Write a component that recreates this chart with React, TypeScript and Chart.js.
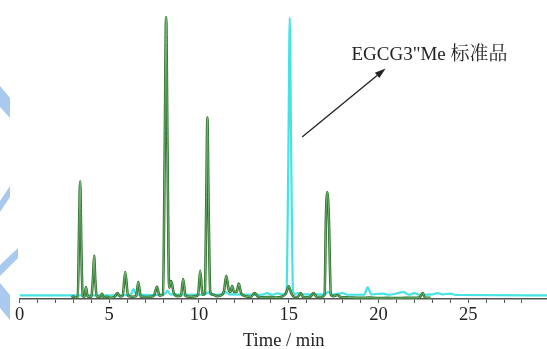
import React, { useEffect, useRef } from "react";
import { Chart, registerables } from "chart.js";

Chart.register(...registerables);

// Green trace (sample) — [time(min), response]
const greenTimes = [2.9, 3.0, 3.1, 3.25, 3.32, 3.38, 3.44, 3.52, 3.62, 3.70, 3.8, 4.0, 4.1, 4.16, 4.22, 4.3, 4.5, 4.6, 4.7, 4.9, 5.0, 5.3, 5.45, 5.6, 5.75, 5.89, 6.05, 6.3, 6.5, 6.62, 6.75, 7.0, 7.3, 7.5, 7.66, 7.8, 8.0, 8.09, 8.17, 8.25, 8.34, 8.45, 8.6, 8.8, 9.0, 9.12, 9.25, 9.5, 9.8, 9.95, 10.07, 10.2, 10.33, 10.41, 10.47, 10.53, 10.63, 10.8, 11.0, 11.2, 11.4, 11.52, 11.65, 11.75, 11.85, 11.95, 12.1, 12.22, 12.35, 12.6, 12.9, 13.1, 13.3, 13.6, 14.0, 14.3, 14.6, 14.85, 15.0, 15.15, 15.3, 15.5, 15.67, 15.8, 16.0, 16.2, 16.4, 16.55, 16.8, 17.0, 17.08, 17.16, 17.24, 17.35, 17.5, 17.7, 17.9, 18.2, 18.5, 19.0, 19.5, 20.0, 20.5, 21.0, 21.5, 22.0, 22.3, 22.47, 22.6, 22.9];
const greenValues = [0.6, 0.9, 0.5, 0.6, 25, 41.4, 20, 1.0, 0.8, 4.2, 0.9, 0.8, 8, 15.2, 7, 0.9, 0.7, 1.8, 0.6, 0.8, 0.4, 0.8, 2.1, 0.9, 1.2, 9.5, 1.2, 0.8, 1.0, 6.0, 0.9, 0.7, 0.8, 1.3, 4.3, 1.2, 1.5, 50, 99.3, 50, 4, 6.3, 2.0, 1.0, 1.2, 7.0, 1.1, 0.8, 1.0, 1.5, 9.9, 1.5, 2.0, 35, 63.9, 35, 2.5, 1.5, 1.0, 1.2, 3.0, 8.2, 3.5, 2.5, 4.6, 2.5, 2.5, 5.4, 2.0, 1.0, 0.8, 2.1, 0.8, 0.6, 0.7, 0.5, 0.8, 2.0, 4.5, 2.0, 0.8, 0.7, 2.1, 0.7, 0.6, 0.8, 2.1, 0.8, 0.7, 1.5, 30, 37.6, 28, 1.5, 1.0, 1.4, 0.7, 0.6, 0.5, 0.4, 0.5, 0.3, 0.4, 0.3, 0.4, 0.4, 0.6, 2.1, 0.5, 0.4];

// Cyan trace (EGCG3"Me standard)
const cyanTimes = [0, 3, 5.5, 6.2, 6.35, 6.5, 7.5, 8.1, 8.24, 8.4, 10.3, 10.5, 10.7, 11.3, 11.5, 11.7, 13.5, 13.8, 14.1, 14.4, 14.7, 14.88, 14.98, 15.06, 15.14, 15.24, 15.35, 15.5, 15.7, 17.0, 17.2, 17.4, 18.0, 18.3, 19.2, 19.4, 19.6, 20.2, 20.6, 21.4, 21.7, 22.0, 22.3, 23.0, 23.3, 23.6, 24.0, 24.3, 29.5];
const cyanValues = [1.3, 1.3, 1.3, 1.6, 3.5, 1.6, 1.4, 1.8, 2.9, 1.6, 1.5, 2.3, 1.5, 1.6, 2.5, 1.6, 1.5, 2.1, 1.5, 2.0, 1.6, 3, 50, 99, 50, 3, 1.8, 2.1, 1.6, 1.6, 2.5, 1.5, 2.1, 1.5, 1.5, 4.1, 1.6, 1.9, 1.5, 2.4, 1.5, 2.1, 1.5, 1.6, 2.1, 1.6, 1.9, 1.4, 1.3];

const tickValues = [0, 5, 10, 15, 20, 25];
const tickLabels = ["0", "5", "10", "15", "20", "25"];
const axisTitle = "Time / min";
const annotationText = 'EGCG3"Me 标准品';

const SERIF = '"Liberation Serif", "Times New Roman", "Noto Serif CJK SC", "Noto Sans CJK SC", serif';

const toPoints = (xs: number[], ys: number[]) => xs.map((x, i) => ({ x, y: ys[i] }));

const decorPlugin = {
  id: "decor",
  beforeDraw(chart: any) {
    const ctx = chart.ctx;
    ctx.save();
    ctx.fillStyle = "#a9c9ee";
    const shapes = [
      [[0, 86], [10, 98], [10, 118], [0, 107]],
      [[10, 186], [10, 197], [0, 212], [0, 201]],
      [[18, 248], [18, 258], [0, 276], [0, 265]],
      [[0, 283], [10, 295], [10, 320], [0, 308]],
    ];
    for (const s of shapes) {
      ctx.beginPath();
      s.forEach((p: number[], i: number) => (i === 0 ? ctx.moveTo(p[0], p[1]) : ctx.lineTo(p[0], p[1])));
      ctx.closePath();
      ctx.fill();
    }
    ctx.restore();
  },
  afterDraw(chart: any) {
    const { ctx, scales } = chart;
    const xs = scales.x;
    const ys = scales.y;
    const x1 = xs.getPixelForValue(15.75);
    const y1 = ys.getPixelForValue(57.0);
    const x2 = xs.getPixelForValue(20.4);
    const y2 = ys.getPixelForValue(81.2);
    ctx.save();
    ctx.strokeStyle = "#222";
    ctx.fillStyle = "#222";
    ctx.lineWidth = 1.3;
    const ang = Math.atan2(y2 - y1, x2 - x1);
    const hl = 11;
    const hw = 3.5;
    const bx = x2 - hl * Math.cos(ang);
    const by = y2 - hl * Math.sin(ang);
    ctx.beginPath();
    ctx.moveTo(x1, y1);
    ctx.lineTo(bx, by);
    ctx.stroke();
    ctx.beginPath();
    ctx.moveTo(x2, y2);
    ctx.lineTo(bx + hw * Math.sin(ang), by - hw * Math.cos(ang));
    ctx.lineTo(bx - hw * Math.sin(ang), by + hw * Math.cos(ang));
    ctx.closePath();
    ctx.fill();
    ctx.font = `19px ${SERIF}`;
    ctx.textAlign = "left";
    ctx.textBaseline = "alphabetic";
    ctx.fillStyle = "#222";
    ctx.fillText(annotationText, xs.getPixelForValue(18.5), ys.getPixelForValue(84.2));
    ctx.restore();
  },
};

export default function App() {
  const ref = useRef<HTMLCanvasElement>(null);
  useEffect(() => {
    if (!ref.current) return;
    const chart = new Chart(ref.current, {
      type: "line",
      data: {
        datasets: [
          {
            data: toPoints(cyanTimes, cyanValues),
            borderColor: "#45e3e3",
            borderWidth: 2.2,
            pointRadius: 0,
            cubicInterpolationMode: "monotone",
            order: 3,
          },
          {
            data: toPoints(greenTimes, greenValues),
            borderColor: "#2d6e2d",
            borderWidth: 2.6,
            pointRadius: 0,
            cubicInterpolationMode: "monotone",
            order: 2,
          },
          {
            data: toPoints(greenTimes, greenValues),
            borderColor: "#7cbf7c",
            borderWidth: 0.9,
            pointRadius: 0,
            cubicInterpolationMode: "monotone",
            order: 1,
          },
        ],
      },
      options: {
        animation: false,
        responsive: false,
        layout: { padding: { left: 19.5, right: 0, top: 15, bottom: 2 } },
        plugins: { legend: { display: false }, tooltip: { enabled: false } },
        scales: {
          x: {
            type: "linear",
            min: 0,
            max: 29.45,
            ticks: {
              stepSize: 1,
              autoSkip: false,
              maxRotation: 0,
              padding: 3,
              color: "#222",
              font: { family: SERIF, size: 18.5, lineHeight: 1 },
              callback: (v: any) => {
                const i = tickValues.indexOf(Number(v));
                return i >= 0 ? tickLabels[i] : "";
              },
            },
            grid: { drawOnChartArea: false, drawTicks: true, tickLength: 4, color: "#555" },
            border: { display: true, color: "#555", width: 1.5 },
            title: {
              display: true,
              text: axisTitle,
              color: "#222",
              font: { family: SERIF, size: 18.5, lineHeight: 1 },
              padding: { top: 4, bottom: 0 },
            },
          },
          y: { display: false, min: 0, max: 100 },
        },
      },
      plugins: [decorPlugin],
    } as any);
    return () => chart.destroy();
  }, []);
  return (
    <div style={{ position: "absolute", left: 0, top: 0, width: 547, height: 349, overflow: "hidden" }}>
      <canvas ref={ref} width={551} height={352} style={{ display: "block" }} />
    </div>
  );
}
